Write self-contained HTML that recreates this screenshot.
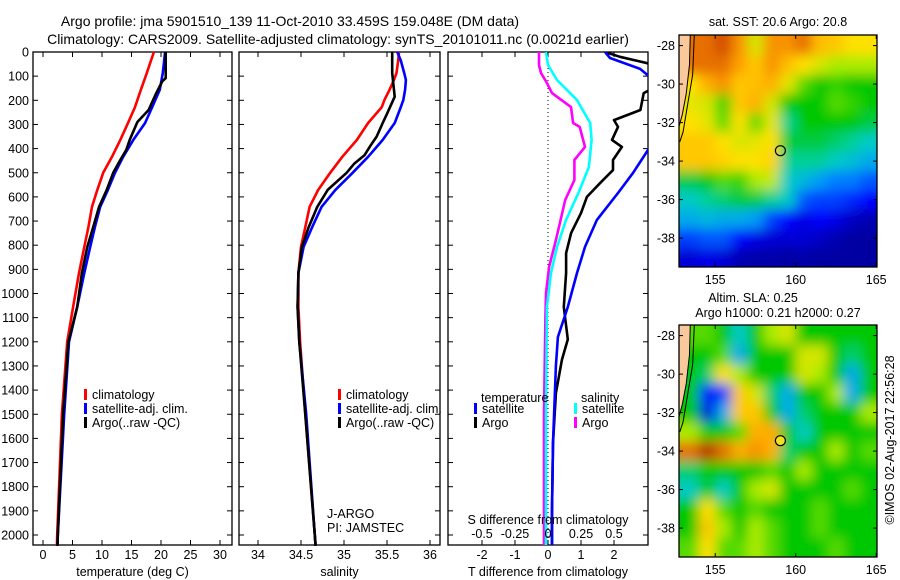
<!DOCTYPE html>
<html><head><meta charset="utf-8">
<style>
html,body{margin:0;padding:0;background:#fff;}
svg{display:block;font-family:"Liberation Sans",sans-serif;}
text{fill:#000;}
</style></head>
<body>
<svg id="chart" width="900" height="580" viewBox="0 0 900 580" xmlns="http://www.w3.org/2000/svg">
<defs>
<clipPath id="clipP3"><rect x="448" y="52" width="200" height="493"/></clipPath>
<clipPath id="clipM1"><rect x="679" y="35" width="198" height="232"/></clipPath>
<clipPath id="clipM2"><rect x="679" y="325" width="198" height="232"/></clipPath>
<filter id="blur" x="-10%" y="-10%" width="120%" height="120%"><feGaussianBlur stdDeviation="6"/></filter>
</defs>
<text x="290" y="26" font-size="14" text-anchor="middle">Argo profile: jma 5901510_139 11-Oct-2010 33.459S 159.048E (DM data)</text>
<text x="338" y="44" font-size="14" text-anchor="middle">Climatology: CARS2009. Satellite-adjusted climatology: synTS_20101011.nc (0.0021d earlier)</text>
<g id="plots"></g>
</svg>
<script>
// ---------- data ----------
const depthTemp = [0,87,156,228,294,364,434,500,571,641,725,807,915,1056,1200,1500,2000,2045];
const tempClim = [18.8,17.6,16.6,15.6,14.4,13.1,11.7,10.2,9.2,8.3,7.7,7.0,6.1,5.1,4.1,3.2,2.4,2.35];
const tempSat  = [20.7,20.3,19.8,18.5,17.3,15.3,13.6,12.2,11.0,9.7,8.8,8.0,7.0,5.8,4.4,3.6,2.5,2.45];
const depthArgoT = [0,108,122,170,240,290,364,406,447,500,571,641,725,807,915,1056,1200,1500,2000,2045];
const tempArgo = [20.8,20.8,20.2,19.2,17.9,16.0,14.7,14.1,13.1,11.9,10.8,9.5,8.5,7.5,6.6,5.8,4.3,3.4,2.5,2.45];

const depthSal = [0,35,87,116,156,199,228,294,364,434,500,571,641,725,807,915,1056,1200,1500,2000,2045];
const salClim = [35.64,35.63,35.61,35.58,35.53,35.47,35.44,35.28,35.15,34.98,34.84,34.70,34.60,34.55,34.50,34.47,34.47,34.49,34.55,34.66,34.67];
const salSat  = [35.62,35.66,35.70,35.72,35.71,35.69,35.66,35.59,35.45,35.28,35.10,34.90,34.74,34.63,34.53,34.47,34.46,34.48,34.56,34.66,34.67];
const depthArgoS = [0,87,185,256,294,350,392,427,462,500,571,641,725,807,915,1056,1200,1500,2000,2045];
const salArgo = [35.56,35.56,35.59,35.50,35.45,35.38,35.30,35.24,35.12,35.03,34.81,34.69,34.59,34.51,34.47,34.46,34.48,34.55,34.66,34.67];

const depthDT = [0,20,62,120,170,240,282,310,364,393,447,489,543,600,667,750,833,915,1056,1190,1275,1413,1620,1900,2045];
const dTArgo = [1.73,2.18,3.5,3.6,2.9,2.8,2.0,2.12,1.94,2.24,1.97,1.97,1.58,1.18,1.0,0.7,0.55,0.55,0.48,0.6,0.42,0.24,0.15,0.12,0.12];
const depthDTs = [0,25,70,116,250,406,500,584,696,807,915,1056,1180,1300,1620,1900,2045];
const dTSat = [1.73,1.88,2.79,3.2,3.6,3.03,2.58,2.12,1.48,1.12,0.88,0.6,0.3,0.24,0.15,0.12,0.12];
const depthDS = [0,54,87,128,170,228,294,310,393,447,530,613,708,778,890,998,1100,1500,2045];
const dSArgo = [-0.068,-0.068,-0.053,-0.008,0.03,0.174,0.19,0.24,0.28,0.2,0.2,0.13,0.09,0.06,0.008,-0.015,-0.02,-0.03,-0.03];
const depthDSs = [0,54,116,199,294,364,476,584,696,807,915,1056,1500,2045];
const dSSat = [-0.015,0,0.068,0.22,0.32,0.33,0.31,0.23,0.136,0.068,0.023,-0.008,-0.015,-0.015];

const depthTicks = [0,100,200,300,400,500,600,700,800,900,1000,1100,1200,1300,1400,1500,1600,1700,1800,1900,2000];
const tempTicks = [0,5,10,15,20,25,30];
const salTicks = [34,34.5,35,35.5,36];
const salTickLabels = ["34","34.5","35","35.5","36"];
const dTTicks = [-2,-1,0,1,2];
const dSTicks = [-0.5,-0.25,0,0.25,0.5];
const dSTickLabels = ["-0.5","-0.25","0","0.25","0.5"];

const lonTicks = [155,160,165];
const latTicks = [-28,-30,-32,-34,-36,-38];
const sstGrid = [
[-1,0.85,0.9,0.8,0.6,0.8,0.8,0.85,0.72,0.7,0.65,0.65],
[-1,0.85,0.85,0.78,0.7,0.8,0.72,0.65,0.6,0.55,0.55,0.55],
[0.65,0.75,0.8,0.7,0.72,0.75,0.62,0.5,0.45,0.48,0.45,0.45],
[0.62,0.6,0.48,0.7,0.75,0.6,0.45,0.45,0.45,0.5,0.48,0.45],
[0.65,0.62,0.5,0.65,0.5,0.62,0.38,0.45,0.45,0.45,0.45,0.42],
[0.7,0.7,0.65,0.6,0.62,0.65,0.42,0.42,0.42,0.4,0.38,0.35],
[0.7,0.7,0.68,0.65,0.65,0.68,0.38,0.38,0.38,0.35,0.33,0.3],
[0.42,0.45,0.5,0.48,0.55,0.58,0.35,0.32,0.28,0.25,0.25,0.22],
[0.35,0.38,0.4,0.42,0.42,0.38,0.35,0.22,0.2,0.2,0.18,0.15],
[0.3,0.32,0.3,0.3,0.28,0.2,0.15,0.12,0.15,0.12,0.08,0.06],
[0.2,0.22,0.22,0.15,0.12,0.1,0.1,0.1,0.08,0.06,0.04,0.04],
[0.1,0.12,0.1,0.06,0.05,0.05,0.04,0.05,0.04,0.04,0.04,0.04]];
const slaGrid = [
[-1,0.5,0.45,0.35,0.45,0.55,0.6,0.45,0.45,0.45,0.45,0.45],
[-1,0.45,0.5,0.3,0.45,0.45,0.45,0.6,0.6,0.45,0.4,0.45],
[0.45,0.4,0.65,0.55,0.45,0.45,0.45,0.6,0.55,0.45,0.3,0.45],
[0.45,0.15,0.2,0.7,0.6,0.4,0.3,0.45,0.45,0.55,0.3,0.45],
[0.45,0.1,0.3,0.7,0.7,0.45,0.3,0.4,0.45,0.45,0.45,0.55],
[0.55,0.45,0.45,0.5,0.75,0.75,0.45,0.35,0.45,0.45,0.45,0.45],
[0.85,0.95,0.85,0.75,0.8,0.75,0.4,0.45,0.45,0.55,0.45,0.5],
[0.4,0.45,0.45,0.45,0.45,0.5,0.45,0.55,0.45,0.45,0.45,0.45],
[0.35,0.45,0.35,0.45,0.55,0.6,0.45,0.45,0.45,0.45,0.5,0.45],
[0.45,0.65,0.5,0.45,0.5,0.45,0.45,0.45,0.5,0.45,0.45,0.45],
[0.45,0.7,0.55,0.45,0.55,0.5,0.45,0.45,0.5,0.45,0.45,0.45],
[0.5,0.65,0.5,0.5,0.55,0.5,0.45,0.45,0.45,0.5,0.45,0.45]];
const argoLon = 159.048, argoLat = -33.459;

// ---------- drawing ----------
const NS = "http://www.w3.org/2000/svg";
const root = document.getElementById('plots');
function mk(tag, attrs, parent){ const e=document.createElementNS(NS,tag); for(const k in attrs) e.setAttribute(k,attrs[k]); (parent||root).appendChild(e); return e; }
function txt(s, attrs, parent){ const e=mk('text',attrs,parent); e.textContent=s; return e; }

const TOP=52, BOT=545;
const yD = d => TOP + d*0.2415;

function panel(name, x0, x1, xScale, xticks, xlabels, xtitle){
  const g = mk('g',{});
  
  
  const r = mk('rect',{x:x0,y:TOP,width:x1-x0,height:BOT-TOP,fill:'none',stroke:'#000','stroke-width':1.3},g);
  
  
  depthTicks.forEach(d=>{
    const y=yD(d);
    mk('line',{x1:x0,x2:x0+5,y1:y,y2:y,stroke:'#000'},g);
    mk('line',{x1:x1-5,x2:x1,y1:y,y2:y,stroke:'#000'},g);
  });
  xticks.forEach((v,i)=>{
    const x=xScale(v);
    mk('line',{x1:x,x2:x,y1:TOP,y2:TOP+5,stroke:'#000'},g);
    mk('line',{x1:x,x2:x,y1:BOT-5,y2:BOT,stroke:'#000'},g);
    const t=txt(xlabels[i],{x:x,y:559,'font-size':12.5,'text-anchor':'middle'},g);
    
    
  });
  const tt=txt(xtitle,{x:(x0+x1)/2,y:576,'font-size':12.5,'text-anchor':'middle'},g);
  
  
  return g;
}
function line(g, xs, ds, scale, color, name, clip){
  const pts = xs.map((v,i)=>scale(v).toFixed(1)+','+yD(ds[i]).toFixed(1)).join(' ');
  const attrs={points:pts,fill:'none',stroke:color,'stroke-width':2.6,'stroke-linejoin':'round'};
  if(clip) attrs['clip-path']='url(#'+clip+')';
  const p=mk('polyline',attrs,g);
  
  
}
function legendEntry(g, x, y, color, label, name){
  mk('rect',{x:x,y:y-9,width:3,height:11,fill:color},g);
  const t=txt(label,{x:x+8,y:y+1,'font-size':12.5},g);
  
  
}

depthTicks.forEach(d=>{
  const t=txt(String(d),{x:29,y:yD(d)+4.5,'font-size':12.5,'text-anchor':'end'});
  
  
});

const sT = v => 43 + v*5.9;
const g1 = panel('temperature-panel',33,232,sT,tempTicks,tempTicks.map(String),'temperature (deg C)');
line(g1,tempClim,depthTemp,sT,'#ff0000','temp-climatology-line');
line(g1,tempSat,depthTemp,sT,'#0000ff','temp-satellite-line');
line(g1,tempArgo,depthArgoT,sT,'#000000','temp-argo-line');
legendEntry(g1,84,398,'#ff0000','climatology','legend-climatology');
legendEntry(g1,84,412,'#0000ff','satellite-adj. clim.','legend-satellite');
legendEntry(g1,84,426,'#000000','Argo(..raw -QC)','legend-argo');

const sS = v => 258 + (v-34)*86;
const g2 = panel('salinity-panel',239,440,sS,salTicks,salTickLabels,'salinity');
line(g2,salClim,depthSal,sS,'#ff0000','sal-climatology-line');
line(g2,salSat,depthSal,sS,'#0000ff','sal-satellite-line');
line(g2,salArgo,depthArgoS,sS,'#000000','sal-argo-line');
legendEntry(g2,338,398,'#ff0000','climatology','legend-sal-climatology');
legendEntry(g2,338,412,'#0000ff','satellite-adj. clim.','legend-sal-satellite');
legendEntry(g2,338,426,'#000000','Argo(..raw -QC)','legend-sal-argo');
let t1=txt('J-ARGO',{x:327,y:518,'font-size':12.5},g2);  
let t2=txt('PI: JAMSTEC',{x:327,y:532,'font-size':12.5},g2);  

const sDT = v => 548 + v*33;
const sDS = v => 548 + v*132;
const g3 = panel('difference-panel',448,648,sDT,dTTicks,dTTicks.map(String),'T difference from climatology');
mk('line',{x1:548,x2:548,y1:TOP,y2:BOT,stroke:'#000','stroke-dasharray':'1,3'},g3);
line(g3,dSArgo,depthDS,sDS,'#ff00ff','sal-diff-argo-line','clipP3');
line(g3,dSSat,depthDSs,sDS,'#00ffff','sal-diff-satellite-line','clipP3');
line(g3,dTArgo,depthDT,sDT,'#000000','temp-diff-argo-line','clipP3');
line(g3,dTSat,depthDTs,sDT,'#0000ff','temp-diff-satellite-line','clipP3');
let lt=txt('temperature',{x:481,y:402,'font-size':12.5},g3);  
let ls=txt('salinity',{x:581,y:402,'font-size':12.5},g3);  
legendEntry(g3,474,412,'#0000ff','satellite','legend-temp-satellite');
legendEntry(g3,474,426,'#000000','Argo','legend-temp-argo');
legendEntry(g3,574,412,'#00ffff','satellite','legend-sal-diff-satellite');
legendEntry(g3,574,426,'#ff00ff','Argo','legend-sal-diff-argo');
let st=txt('S difference from climatology',{x:548,y:524,'font-size':12.5,'text-anchor':'middle'},g3);  
dSTicks.forEach((v,i)=>{
  const t=txt(dSTickLabels[i],{x:sDS(v),y:538,'font-size':12.5,'text-anchor':'middle'},g3);
  
  
});

// ---------- maps ----------
const cmStops = [[0,0,0,128],[0.15,0,0,255],[0.27,0,150,255],[0.36,0,210,190],[0.45,0,200,0],[0.55,170,235,0],[0.65,255,225,0],[0.78,255,160,0],[0.88,220,90,0],[1,160,0,0]];
function cmap(v){
  v=Math.max(0,Math.min(1,v));
  for(let i=1;i<cmStops.length;i++){
    if(v<=cmStops[i][0]){
      const a=cmStops[i-1], b=cmStops[i], f=(v-a[0])/(b[0]-a[0]);
      return 'rgb('+Math.round(a[1]+(b[1]-a[1])*f)+','+Math.round(a[2]+(b[2]-a[2])*f)+','+Math.round(a[3]+(b[3]-a[3])*f)+')';
    }
  }
  return 'rgb(160,0,0)';
}
function map(name, y0, grid, clip, circleFill){
  const x0=679, x1=877, y1=y0+232;
  const lonX = lon => 679 + (lon-152.75)*16.1;
  const latY = lat => y0 + (-27.45-lat)*19.25;
  const g = mk('g',{});
  
  
  const cg = mk('g',{'clip-path':'url(#'+clip+')'},g);
  mk('rect',{x:x0,y:y0,width:198,height:232,fill:cmap(0.45)},cg);
  const bg = mk('g',{filter:'url(#blur)'},cg);
  grid.forEach((row,i)=>{
    row.forEach((v,j)=>{
      const lat=-28-i, lon=153.5+j;
      const val = v<0 ? row[1] : v;
      const c=mk('rect',{x:lonX(lon-0.5)-(j===0?14:0),y:latY(lat+0.5)-(i===0?14:0),width:16.1+1+(j===0?14:0)+(j===row.length-1?14:0),height:19.25+1+(i===0?14:0)+(i===grid.length-1?14:0),fill:cmap(val)},bg);
      
      
    });
  });
  const land = mk('polygon',{points:[x0,y0, lonX(153.45),y0, lonX(153.4),latY(-29), lonX(153.2),latY(-30.5), lonX(152.95),latY(-31.6), x0,latY(-32.2)].join(' '),fill:'#f9c89b',stroke:'#000','stroke-width':1},cg);
  
  
  mk('polyline',{points:[lonX(153.7),y0, lonX(153.6),latY(-29.5), lonX(153.3),latY(-31), lonX(153.0),latY(-32.5), lonX(152.8),latY(-33)].join(' '),fill:'none',stroke:'#000','stroke-width':1},cg);
  const c=mk('circle',{cx:lonX(argoLon),cy:latY(argoLat),r:5,fill:circleFill,stroke:'#000','stroke-width':1.2},g);
  
  
  mk('rect',{x:x0,y:y0,width:198,height:232,fill:'none',stroke:'#000','stroke-width':1.3},g);
  lonTicks.forEach(l=>{
    const x=lonX(l);
    mk('line',{x1:x,x2:x,y1:y0,y2:y0+4,stroke:'#000'},g);
    mk('line',{x1:x,x2:x,y1:y1-4,y2:y1,stroke:'#000'},g);
    const t=txt(String(l),{x:x,y:y1+17,'font-size':12.5,'text-anchor':'middle'},g);
    
    
  });
  latTicks.forEach(l=>{
    const y=latY(l);
    mk('line',{x1:x0,x2:x0+4,y1:y,y2:y,stroke:'#000'},g);
    mk('line',{x1:x1-4,x2:x1,y1:y,y2:y,stroke:'#000'},g);
    const t=txt(String(l),{x:x0-4,y:y+4.5,'font-size':12.5,'text-anchor':'end'},g);
    
    
  });
  return g;
}
map('sst-map',35,sstGrid,'clipM1','none');
map('sla-map',325,slaGrid,'clipM2','#f0e020');
let m1=txt('sat. SST: 20.6  Argo: 20.8',{x:778,y:26,'font-size':12.5,'text-anchor':'middle'});  
let m2=txt('Altim. SLA: 0.25',{x:753,y:302,'font-size':12.5,'text-anchor':'middle'});  
let m3=txt('Argo h1000: 0.21  h2000: 0.27',{x:778,y:317,'font-size':12.5,'text-anchor':'middle'});  
let cr=txt('©IMOS 02-Aug-2017 22:56:28',{x:0,y:0,'font-size':12.5,'text-anchor':'middle',transform:'translate(894,440) rotate(-90)'});  
</script>
</body></html>
